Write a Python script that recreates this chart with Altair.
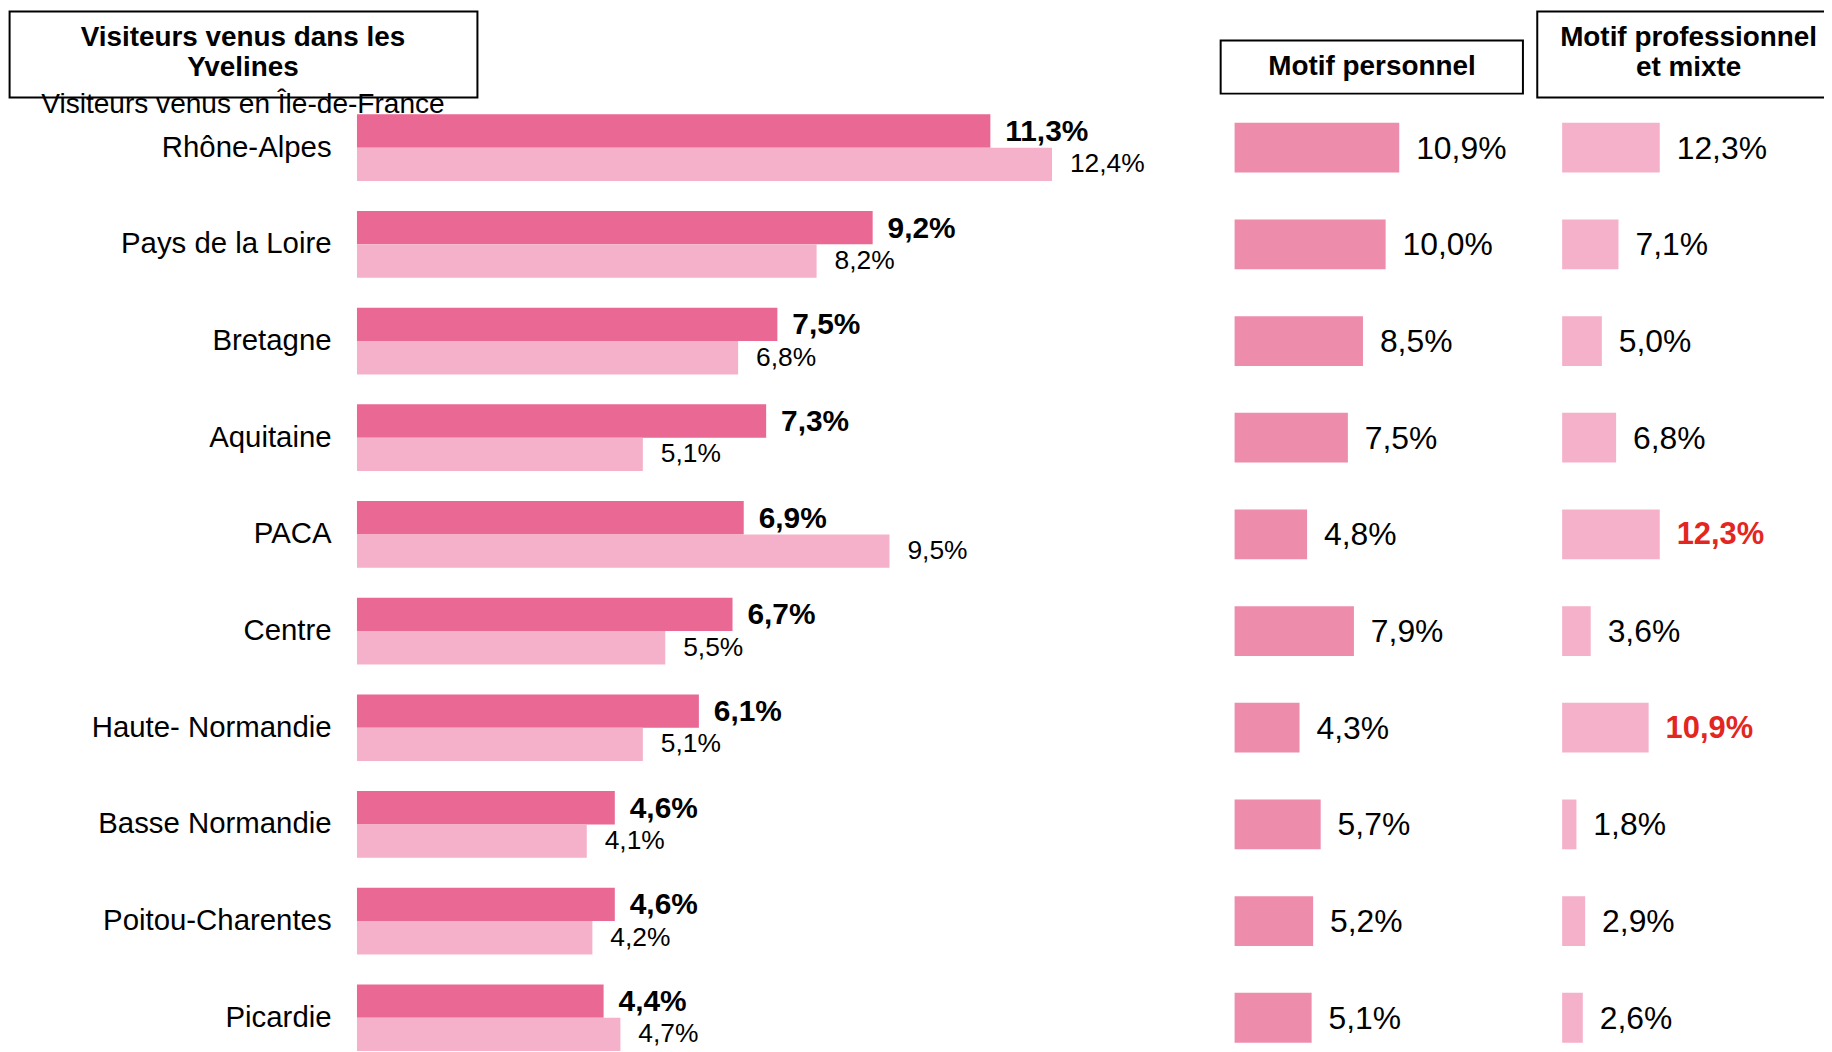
import altair as alt
import pandas as pd

regions = ["Rhône-Alpes", "Pays de la Loire", "Bretagne", "Aquitaine", "PACA",
           "Centre", "Haute- Normandie", "Basse Normandie", "Poitou-Charentes", "Picardie"]
yvelines = [11.3, 9.2, 7.5, 7.3, 6.9, 6.7, 6.1, 4.6, 4.6, 4.4]
idf = [12.4, 8.2, 6.8, 5.1, 9.5, 5.5, 5.1, 4.1, 4.2, 4.7]
perso = [10.9, 10.0, 8.5, 7.5, 4.8, 7.9, 4.3, 5.7, 5.2, 5.1]
pro = [12.3, 7.1, 5.0, 6.8, 12.3, 3.6, 10.9, 1.8, 2.9, 2.6]
pro_highlight = ["PACA", "Haute- Normandie"]

title_left = ["Visiteurs venus dans les", "Yvelines"]
subtitle_left = "Visiteurs venus en Île-de-France"
title_perso = "Motif personnel"
title_pro = ["Motif professionnel", "et mixte"]


def fr(v):
    return f"{v:.1f}".replace(".", ",") + "%"


df = pd.DataFrame({
    "region": regions,
    "yv": yvelines,
    "idf": idf,
    "perso": perso,
    "pro": pro,
})
df["yv_l"] = [fr(v) for v in yvelines]
df["idf_l"] = [fr(v) for v in idf]
df["perso_l"] = [fr(v) for v in perso]
df["pro_l"] = [fr(v) for v in pro]
df["hl"] = [r in pro_highlight for r in regions]

FONT = "Liberation Sans"
DARK = "#E96894"
LIGHT = "#F5B1CA"
MID = "#EE8CAC"
RED = "#E3261F"

W, H = 1824, 1044
ROW = 97.1
TOP = 138 - ROW / 2
yscale = alt.Scale(domain=regions, range=[TOP, TOP + ROW * len(regions)], paddingInner=0, paddingOuter=0)
Y = alt.Y("region:N", scale=yscale, axis=None)

PX_L = 56.3
XL0 = 350.5
xl = alt.Scale(domain=[0, 13], range=[XL0, XL0 + 13 * PX_L], nice=False, zero=True)
PX_P = 15.17
XP0 = 1232
xp = alt.Scale(domain=[0, 11], range=[XP0, XP0 + 11 * PX_P], nice=False, zero=True)
PX_Q = 7.97
XQ0 = 1561
xq = alt.Scale(domain=[0, 13], range=[XQ0, XQ0 + 13 * PX_Q], nice=False, zero=True)

base = alt.Chart(df)
BH = 33.5

left_dark = base.mark_bar(height=BH, yOffset=-BH / 2, color=DARK).encode(
    x=alt.X("yv:Q", scale=xl, axis=None), y=Y)
left_light = base.mark_bar(height=BH, yOffset=BH / 2, color=LIGHT).encode(
    x=alt.X("idf:Q", scale=xl, axis=None), y=Y)
left_dark_t = base.mark_text(align="left", baseline="middle", dx=15, yOffset=-BH / 2 + 1,
                             font=FONT, fontSize=30, fontWeight="bold", color="black").encode(
    x=alt.X("yv:Q", scale=xl, axis=None), y=Y, text="yv_l:N")
left_light_t = base.mark_text(align="left", baseline="middle", dx=18, yOffset=BH / 2,
                              font=FONT, fontSize=26.5, color="black").encode(
    x=alt.X("idf:Q", scale=xl, axis=None), y=Y, text="idf_l:N")

cats = base.mark_text(align="right", baseline="middle", font=FONT, fontSize=29.5, color="black").encode(
    x=alt.value(325), y=Y, text="region:N")

perso_b = base.mark_bar(height=50, color=MID).encode(
    x=alt.X("perso:Q", scale=xp, axis=None), y=Y)
perso_t = base.mark_text(align="left", baseline="middle", dx=17, yOffset=1, font=FONT, fontSize=32,
                         color="black").encode(
    x=alt.X("perso:Q", scale=xp, axis=None), y=Y, text="perso_l:N")

pro_b = base.mark_bar(height=50, color=LIGHT).encode(
    x=alt.X("pro:Q", scale=xq, axis=None), y=Y)
pro_t = base.transform_filter("!datum.hl").mark_text(
    align="left", baseline="middle", dx=17, yOffset=1, font=FONT, fontSize=32, color="black").encode(
    x=alt.X("pro:Q", scale=xq, axis=None), y=Y, text="pro_l:N")
pro_t_hl = base.transform_filter("datum.hl").mark_text(
    align="left", baseline="middle", dx=17, yOffset=1, font=FONT, fontSize=31, fontWeight="bold",
    color=RED).encode(
    x=alt.X("pro:Q", scale=xq, axis=None), y=Y, text="pro_l:N")

one = alt.Chart(pd.DataFrame({"k": [0]}))


def box(x1, x2, y1, y2):
    return one.mark_rect(fillOpacity=0, stroke="black", strokeWidth=2).encode(
        x=alt.value(x1), x2=alt.value(x2), y=alt.value(y1), y2=alt.value(y2))


def label(txt, x, y, size=28, weight="bold"):
    return one.mark_text(align="center", baseline="middle", font=FONT, fontSize=size,
                         fontWeight=weight, color="black").encode(
        x=alt.value(x), y=alt.value(y), text=alt.value(txt))


headers = [
    box(1.6, 471.5, 1.2, 87.7),
    box(1218, 1521.6, 30.3, 83.7),
    box(1536, 1850, 1.2, 87.7),
    label(title_left[0], 236, 27.5),
    label(title_left[1], 236, 58.5),
    label(subtitle_left, 236, 95, size=28.2, weight="normal"),
    label(title_perso, 1370, 57),
    label(title_pro[0], 1688, 27.5),
    label(title_pro[1], 1688, 58.5),
]

chart = alt.layer(
    left_dark, left_light, left_dark_t, left_light_t, cats,
    perso_b, perso_t, pro_b, pro_t, pro_t_hl, *headers
).resolve_scale(x="independent").properties(
    width=W, height=H, autosize=alt.AutoSizeParams(type="none"), padding=0
).configure_view(stroke=None)

chart.save("out.html", embed_options={"renderer": "svg", "actions": False})
